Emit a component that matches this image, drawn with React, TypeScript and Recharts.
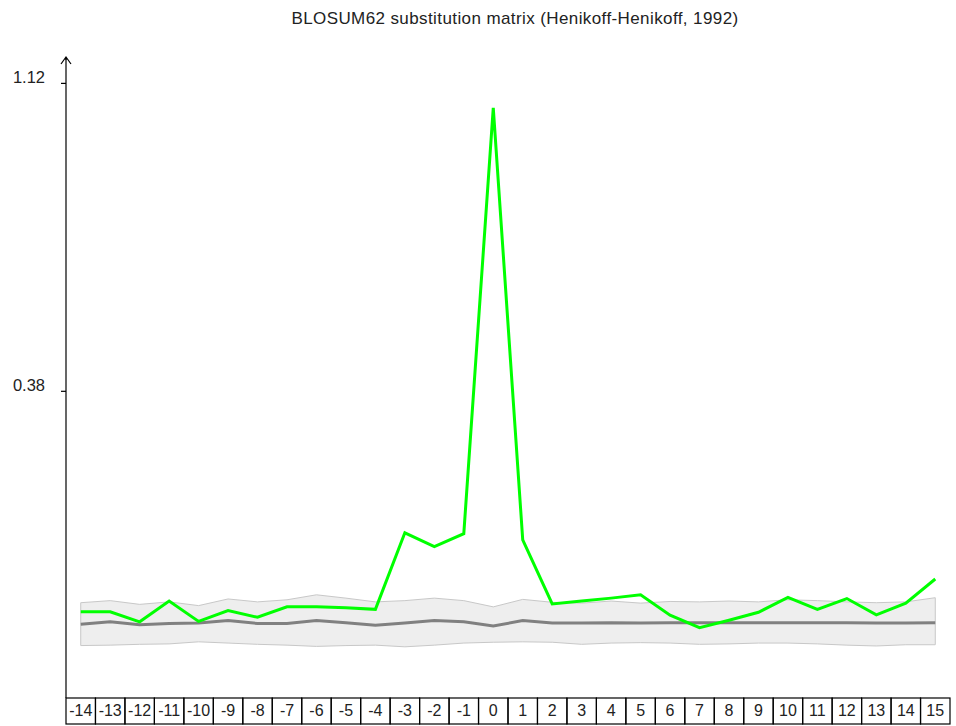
import { ComposedChart, Line, Area, XAxis, YAxis, ReferenceLine } from "recharts";

const positions = [
  "-14", "-13", "-12", "-11", "-10", "-9", "-8", "-7", "-6", "-5", "-4", "-3", "-2", "-1", "0",
  "1", "2", "3", "4", "5", "6", "7", "8", "9", "10", "11", "12", "13", "14", "15",
];

// observed profile (green)
const observed = [
  -0.150, -0.150, -0.174, -0.124, -0.173, -0.147, -0.163, -0.138, -0.138, -0.140, -0.144,
  0.040, 0.007, 0.038, 1.061, 0.023, -0.131, -0.124, -0.117, -0.109, -0.158, -0.188,
  -0.170, -0.151, -0.115, -0.144, -0.118, -0.157, -0.129, -0.071,
];

// background mean (gray)
const meanLine = [
  -0.180, -0.174, -0.181, -0.178, -0.177, -0.171, -0.178, -0.178, -0.171, -0.176, -0.182,
  -0.177, -0.171, -0.174, -0.184, -0.171, -0.177, -0.177, -0.176, -0.177, -0.176, -0.176,
  -0.176, -0.176, -0.176, -0.176, -0.176, -0.177, -0.177, -0.176,
];

const bandHigh = [
  -0.128, -0.123, -0.132, -0.126, -0.135, -0.119, -0.126, -0.121, -0.109, -0.117, -0.126,
  -0.123, -0.117, -0.123, -0.138, -0.120, -0.127, -0.129, -0.124, -0.129, -0.125, -0.126,
  -0.124, -0.126, -0.121, -0.123, -0.126, -0.128, -0.126, -0.116,
];

const bandLow = [
  -0.231, -0.230, -0.228, -0.227, -0.222, -0.225, -0.228, -0.230, -0.233, -0.231, -0.230,
  -0.234, -0.230, -0.225, -0.223, -0.222, -0.223, -0.228, -0.225, -0.224, -0.225, -0.228,
  -0.227, -0.225, -0.225, -0.227, -0.230, -0.232, -0.229, -0.229,
];

const yTicks = [0.38, 1.12];

const W = 956;
const H = 726;
const M = { top: 58, right: 6, bottom: 0, left: 0 };
const Y_W = 66;
const X_H = 28;
const FONT = "'Liberation Sans', Arial, sans-serif";

const bandW = (W - M.left - M.right - Y_W) / positions.length;

const data = positions.map((p, i) => ({
  pos: p,
  obs: observed[i],
  mean: meanLine[i],
  band: [bandLow[i], bandHigh[i]],
}));

const BoxTick = (props: any) => {
  const { x, y, payload } = props;
  return (
    <g>
      <rect x={x - bandW / 2} y={y} width={bandW} height={26} fill="none" stroke="#000" strokeWidth={1.2} />
      <text x={x} y={y + 18} textAnchor="middle" fontSize={16} fontFamily={FONT} fill="#222">
        {payload.value}
      </text>
    </g>
  );
};

const YTick = (props: any) => {
  const { x, y, payload } = props;
  return (
    <text x={x} y={y} textAnchor="end" fontSize={16.5} fontFamily={FONT} fill="#222">
      {payload.value.toFixed(2)}
    </text>
  );
};

const Arrow = (props: any) => {
  const { x, y, width } = props.viewBox;
  const ax = x + width;
  return (
    <path
      d={`M${ax - 5},${y + 6} L${ax},${y - 1} L${ax + 5},${y + 6} M${ax},${y - 1} L${ax},${y + 2}`}
      stroke="#000"
      strokeWidth={1.2}
      fill="none"
    />
  );
};

export default function App() {
  const first = data[0];
  const last = data[data.length - 1];
  return (
    <div style={{ position: "absolute", left: 0, top: 0, width: W, height: H, background: "#fff" }}>
      <div
        style={{
          position: "absolute",
          left: 515,
          top: 9,
          transform: "translateX(-50%)",
          whiteSpace: "nowrap",
          fontFamily: FONT,
          fontSize: 17,
          letterSpacing: 0.4,
          color: "#222",
        }}
      >
        BLOSUM62 substitution matrix (Henikoff-Henikoff, 1992)
      </div>
      <ComposedChart width={W} height={H} data={data} margin={M}>
        <XAxis
          dataKey="pos"
          scale="band"
          height={X_H}
          axisLine={false}
          tickLine={false}
          tickSize={0}
          tickMargin={0}
          interval={0}
          tick={<BoxTick />}
        />
        <YAxis
          width={Y_W}
          domain={[-0.357, 1.181]}
          allowDataOverflow
          ticks={yTicks}
          tickSize={5}
          tickMargin={16}
          axisLine={{ stroke: "#000", strokeWidth: 1.2 }}
          tickLine={{ stroke: "#000", strokeWidth: 1.2 }}
          tick={<YTick />}
          label={<Arrow />}
        />
        <Area
          dataKey="band"
          fill="#eeeeee"
          fillOpacity={1}
          stroke="#c8c8c8"
          strokeWidth={1}
          isAnimationActive={false}
        />
        <ReferenceLine
          segment={[{ x: first.pos, y: first.band[0] }, { x: first.pos, y: first.band[1] }]}
          stroke="#c8c8c8"
        />
        <ReferenceLine
          segment={[{ x: last.pos, y: last.band[0] }, { x: last.pos, y: last.band[1] }]}
          stroke="#c8c8c8"
        />
        <Line dataKey="mean" stroke="#808080" strokeWidth={3} dot={false} isAnimationActive={false} />
        <Line dataKey="obs" stroke="#00ff00" strokeWidth={3} dot={false} isAnimationActive={false} />
      </ComposedChart>
    </div>
  );
}
